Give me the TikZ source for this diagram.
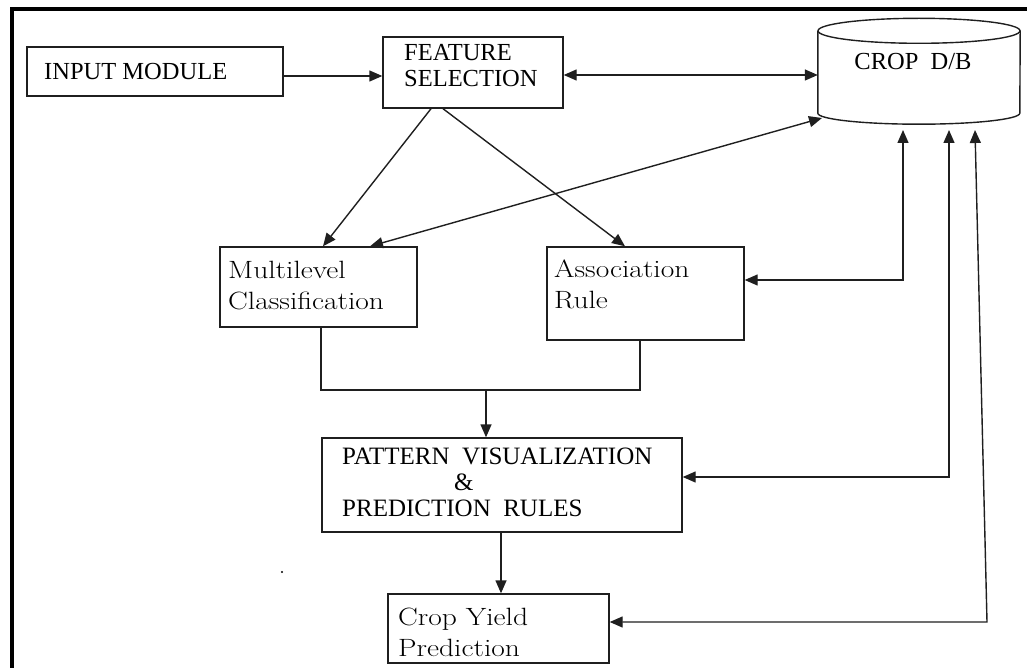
\documentclass[tikz,border=0pt]{standalone}
\usepackage{fontspec}
\newfontfamily\timesf{Liberation Serif}
\newfontfamily\lmwide[FakeStretch=1.18]{Latin Modern Roman}
\usetikzlibrary{arrows.meta}
\begin{document}
\begin{tikzpicture}[x=1pt,y=-1pt,
  box/.style={draw=black!88, line width=1.4pt, inner sep=0pt},
  conn/.style={draw=black!88, line width=1.4pt},
  arr/.style={conn, -{Triangle[length=13pt,width=11pt]}},
  darr/.style={conn, {Triangle[length=13pt,width=11pt]}-{Triangle[length=13pt,width=11pt]}},
  caps/.style={font=\timesf\fontsize{24.5}{26}\selectfont, anchor=west, inner sep=0pt, align=left},
  pcaps/.style={font=\timesf\fontsize{25}{26}\selectfont, anchor=west, inner sep=0pt, align=left},
  mixed/.style={font=\lmwide\fontsize{25}{31}\selectfont, anchor=west, inner sep=0pt, align=left}]
\useasboundingbox (0,0) rectangle (1027,668);
% frame
\draw[line width=4pt] (12,668) -- (12,9.5) -- (1027,9.5);
% boxes
\node[box, minimum width=256pt, minimum height=49pt] (inp) at (155,71.5) {};
\node[box, minimum width=180pt, minimum height=71pt] (fs) at (473,72.5) {};
\node[box, minimum width=197pt, minimum height=80pt] (ml) at (318.5,287) {};
\node[box, minimum width=197pt, minimum height=93pt] (ar) at (645.5,293.5) {};
\node[box, minimum width=360pt, minimum height=94pt] (pv) at (502,485) {};
\node[box, minimum width=221pt, minimum height=69pt] (cy) at (498.5,628.5) {};
% database cylinder
\node[inner sep=0pt, minimum width=202pt, minimum height=82pt] (db) at (919,72) {};
\draw[conn] (db.north west) -- (db.south west)
  arc[start angle=180, end angle=360, x radius=101pt, y radius=11pt] -- (db.north east);
\draw[conn] (db.north) ellipse[x radius=101pt, y radius=12.5pt];
% texts
\node[caps] (inpT) at (44,72) {INPUT MODULE};
\node[caps] (fsT) at (404,66) {FEATURE\\SELECTION};
\node[caps, anchor=center] (dbT) at (913,62) {CROP\ \ D/B};
\node[mixed] (mlT) at (228,285.5) {Multilevel\\Classification};
\node[mixed] (arT) at (554,284) {Association\\Rule};
\node[pcaps] (pvT) at (342,482) {PATTERN\ \ VISUALIZATION\\\hspace*{112pt}\&\\PREDICTION\ \ RULES};
\node[mixed] (cyT) at (398,632) {Crop Yield\\Prediction};
% connection points
\coordinate (dbA) at (822,118);
\coordinate (dbB) at (903,130);
\coordinate (dbC) at (949,130);
\coordinate (dbD) at (975,130);
\coordinate (bendD) at (987,622);
\coordinate (jn) at (486,390);
% connectors
\draw[arr] (inp.east |- 0,76) -- (fs.west |- 0,76);
\draw[darr] (fs.east |- 0,75) -- (db.west |- 0,75);
\draw[arr] (431,0 |- fs.south) -- (323,0 |- ml.north);
\draw[arr] (443,0 |- fs.south) -- (625,0 |- ar.north);
\draw[darr] (370,0 |- ml.north) -- (dbA);
\draw[darr] (ar.east |- 0,280) -| (dbB);
\draw[darr] (pv.east |- 0,477) -| (dbC);
\draw[darr] (cy.east |- 0,622) -- (bendD) -- (dbD);
\draw[conn] (321,0 |- ml.south) -- (321,390) -- (640,390) -- (640,0 |- ar.south);
\draw[arr] (jn) -- (jn |- pv.north);
\draw[arr] (501,0 |- pv.south) -- (501,0 |- cy.north);
% stray dot
\fill (282,572) circle (1.1pt);
\end{tikzpicture}
\end{document}
